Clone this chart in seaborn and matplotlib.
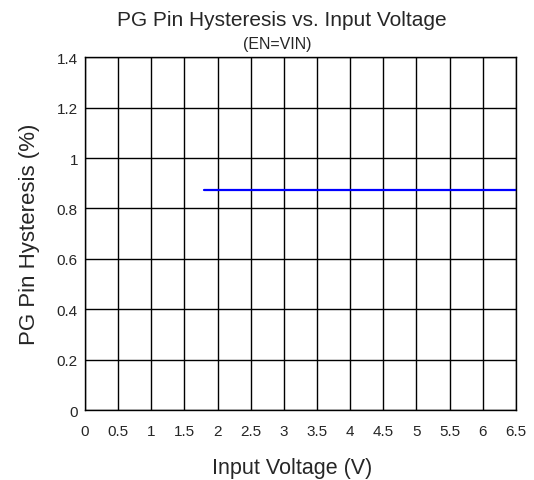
import matplotlib
matplotlib.use("Agg")
import matplotlib.pyplot as plt
import seaborn as sns
import pandas as pd

# =========================
# DATA
# =========================

vin = [1.8, 2.0, 2.5, 3.0, 3.5, 4.0, 4.5, 5.0, 5.5, 6.0, 6.5]
hyst = [0.875, 0.875, 0.875, 0.875, 0.875, 0.875, 0.875, 0.875, 0.875, 0.875, 0.875]

x_ticks = [0, 0.5, 1, 1.5, 2, 2.5, 3, 3.5, 4, 4.5, 5, 5.5, 6, 6.5]
x_tick_labels = ["0", "0.5", "1", "1.5", "2", "2.5", "3", "3.5", "4", "4.5", "5", "5.5", "6", "6.5"]
y_ticks = [0, 0.2, 0.4, 0.6, 0.8, 1.0, 1.2, 1.4]
y_tick_labels = ["0", "0.2", "0.4", "0.6", "0.8", "1", "1.2", "1.4"]

df = pd.DataFrame({"vin": vin, "hyst": hyst})

# =========================
# PLOT
# =========================

sns.set_style("white")
plt.rcParams["font.family"] = ["Liberation Sans", "DejaVu Sans"]

fig = plt.figure(figsize=(5.34, 4.81), dpi=100)
ax = fig.add_axes([0.159, 0.1455, 0.807, 0.7335])

sns.lineplot(data=df, x="vin", y="hyst", color="#0000ff", linewidth=1.6, ax=ax)

ax.set_xlim(0, 6.5)
ax.set_ylim(0, 1.4)
ax.set_xticks(x_ticks)
ax.set_xticklabels(x_tick_labels, fontsize=11)
ax.set_yticks(y_ticks)
ax.set_yticklabels(y_tick_labels, fontsize=11)
ax.tick_params(axis="x", length=0, pad=10)
ax.tick_params(axis="y", length=0, pad=5)

ax.grid(True, color="black", linewidth=1)
ax.set_axisbelow(True)
for s in ax.spines.values():
    s.set_color("black")
    s.set_linewidth(1)

ax.set_xlabel("Input Voltage (V)", fontsize=15.5)
ax.xaxis.set_label_coords(0.48, -0.133)
ax.set_ylabel("PG Pin Hysteresis (%)", fontsize=16, labelpad=12)

fig.text(0.528, 0.958, "PG Pin Hysteresis vs. Input Voltage", ha="center", va="center", fontsize=15)
fig.text(0.52, 0.907, "(EN=VIN)", ha="center", va="center", fontsize=11.5)

plt.savefig("out.png", dpi=100)
